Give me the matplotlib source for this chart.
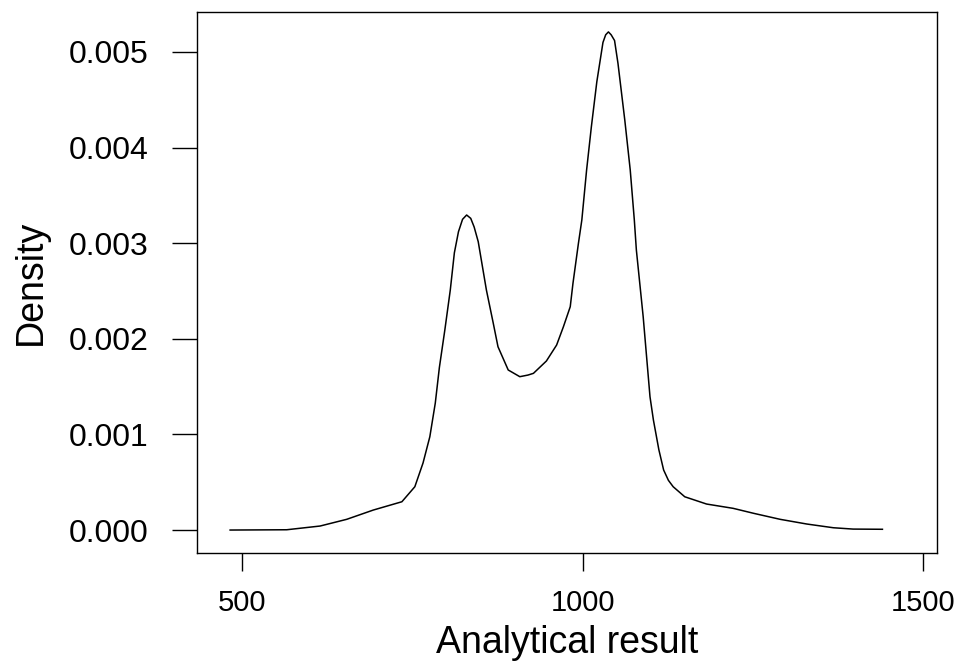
import matplotlib
matplotlib.use("Agg")
import matplotlib.pyplot as plt

plt.rcParams["font.family"] = ["Liberation Sans", "DejaVu Sans"]

# density curve (x = analytical result, y = density in 1e-3)
result = [483, 566, 615, 654, 693, 735, 754, 766, 776, 784, 790, 798, 806, 812,
          818, 824, 830, 836, 841, 847, 859, 869, 876, 891, 908, 920, 928, 947,
          962, 972, 982, 986, 994, 999, 1006, 1013, 1021, 1030, 1034, 1038,
          1042, 1047, 1052, 1062, 1070, 1076, 1079, 1089, 1099, 1104, 1112,
          1119, 1126, 1133, 1150, 1182, 1221, 1251, 1290, 1329, 1368, 1397, 1440]
density = [0.000, 0.003, 0.042, 0.112, 0.209, 0.296, 0.453, 0.701, 0.976, 1.328,
           1.700, 2.092, 2.510, 2.900, 3.120, 3.250, 3.295, 3.260, 3.170, 3.016,
           2.510, 2.165, 1.917, 1.674, 1.604, 1.621, 1.639, 1.768, 1.935, 2.127,
           2.336, 2.581, 2.999, 3.243, 3.766, 4.219, 4.689, 5.100, 5.180, 5.210,
           5.180, 5.120, 4.882, 4.289, 3.766, 3.243, 2.929, 2.231, 1.394, 1.151,
           0.840, 0.628, 0.520, 0.453, 0.348, 0.272, 0.227, 0.175, 0.112, 0.063,
           0.024, 0.010, 0.008]
density = [d / 1000 for d in density]

xticks = [500, 1000, 1500]
yticks = [0.000, 0.001, 0.002, 0.003, 0.004, 0.005]

fig = plt.figure(figsize=(9.6, 6.72), dpi=100)
ax = fig.add_axes([0.2052, 0.1771, 0.7708, 0.805])

ax.plot(result, density, color="black", linewidth=1.1)

ax.set_xlim(434.4, 1520)
ax.set_ylim(-0.00024, 0.005418)

ax.set_xticks(xticks)
ax.set_xticklabels([str(t) for t in xticks])
ax.set_yticks(yticks)
ax.set_yticklabels(["%.3f" % t for t in yticks])

ax.tick_params(axis="x", labelsize=21, length=13, width=1, pad=13)
ax.tick_params(axis="y", labelsize=23, length=18, width=1, pad=17)

for s in ax.spines.values():
    s.set_linewidth(1)

ax.set_xlabel("Analytical result", fontsize=27, labelpad=6)
ax.set_ylabel("Density", fontsize=27, labelpad=14)

fig.savefig("out.png", dpi=100)
